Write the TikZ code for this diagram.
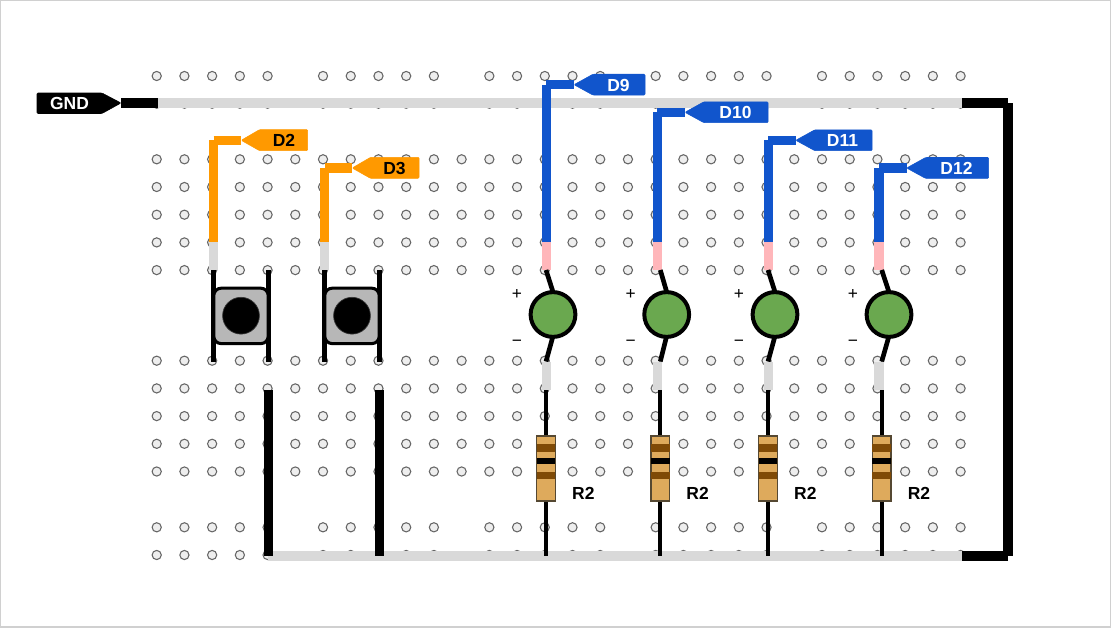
\documentclass[tikz,border=0pt]{standalone}
\usepackage{fontspec}
\setmainfont{Liberation Sans}
\usetikzlibrary{positioning}

\definecolor{railgray}{RGB}{217,217,217}
\definecolor{holegray}{RGB}{238,238,238}
\definecolor{holeedge}{RGB}{102,102,102}
\definecolor{btnorange}{RGB}{255,153,0}
\definecolor{ledblue}{RGB}{17,85,204}
\definecolor{ledpink}{RGB}{255,182,186}
\definecolor{ledgreen}{RGB}{106,168,79}
\definecolor{btngray}{RGB}{183,183,183}
\definecolor{restan}{RGB}{222,170,92}
\definecolor{resedge}{RGB}{85,72,50}
\definecolor{resbrown}{RGB}{127,74,6}

\tikzset{
  hole/.style={draw=holeedge,fill=holegray,line width=0.8pt},
  thickwire/.style={line width=7pt},
  thinleg/.style={draw=black,line width=3.1pt},
  ledleg/.style={draw=black,line width=3.5pt},
  pinlabel/.style={inner sep=0pt,font=\fontsize{13.1}{14}\selectfont\bfseries},
  pinshape/.style={line width=0.4pt,rounded corners=0.8pt},
  polarity/.style={inner sep=0pt,font=\fontsize{13}{14}\selectfont},
  resname/.style={inner sep=0pt,font=\fontsize{13.1}{14}\selectfont\bfseries}
}

\begin{document}
\begin{tikzpicture}[x=0.75pt,y=0.75pt,yscale=-1,xscale=1]
\useasboundingbox (0,0) rectangle (1112,628);

%Shape: Rectangle [frame]
\draw [draw={rgb, 255:red, 208; green, 208; blue, 208 },fill=white,line width=1pt] (0.7,0.7) -- (1110.3,0.7) -- (1110.3,627) -- (0.7,627) -- cycle ;

%Shape: Holes of the rail rows
\foreach \rowy in {76,103.7,527.3,555}{
  \foreach \k in {0,1,2,3,4,6,7,8,9,10,12,13,14,15,16,18,19,20,21,22,24,25,26,27,28,29}{
    \draw [hole] (156.7+27.72*\k,\rowy) circle (4.6) ;
  }
}
%Shape: Holes of the main rows
\foreach \rowy in {159.3,187,214.7,242.4,270.1,360.7,388.4,416.1,443.8,471.5}{
  \foreach \k in {0,...,29}{
    \draw [hole] (156.7+27.72*\k,\rowy) circle (4.6) ;
  }
}

%Shape: Top and bottom rail
\coordinate (railTL) at (158,103);
\coordinate (railTR) at (962,103);
\coordinate (railBL) at (268,556);
\coordinate (railBR) at (962,556);
\coordinate (cornerT) at (1008,103);
\coordinate (cornerB) at (1008,556);
\draw [railgray,thickwire] (railTL) -- (railTR) ;
\draw [railgray,thickwire] (railBL) -- (railBR) ;
\draw [black,thickwire] (railTR) -- (cornerT) ;
\draw [black,thickwire] (cornerT) -- (cornerB) ;
\draw [black,thickwire] (cornerB) -- (railBR) ;

%Shape: GND pin
\draw [pinshape,fill=black,draw=black] (37,93) -- (102,93) -- (121,103) -- (102,113.5) -- (37,113.5) -- cycle ;
\node [pinlabel,text=white] (gndlabel) at (69.5,103.5) {GND};
\coordinate (gndtip) at (121,103);
\draw [black,thickwire] (gndtip) -- (railTL) ;

%Shape: Push buttons
\foreach \btn/\bx in {a/241,b/352}{
  \coordinate (\btn legNW) at (\bx-27.5,270);
  \coordinate (\btn legSW) at (\bx-27.5,361.5);
  \coordinate (\btn legNE) at (\bx+27.5,270);
  \coordinate (\btn legSE) at (\bx+27.5,361.5);
  \draw [thinleg] (\btn legNW) -- (\btn legSW) ;
  \draw [thinleg] (\btn legNE) -- (\btn legSE) ;
  \draw [fill=btngray,line width=2.3pt,rounded corners=5.5pt] (\bx-27.2,288.2) -- (\bx+27.2,288.2) -- (\bx+27.2,343.6) -- (\bx-27.2,343.6) -- cycle ;
  \draw [draw=black!70!btngray,fill=black,line width=0.5pt] (\bx,315.7) circle (18.4) ;
}

%Shape: Wires from the buttons to the lower rail
\coordinate (gndwireA) at (268.5,389.5);
\coordinate (gndwireB) at (379.8,389.5);
\coordinate (gndfootA) at (268.5,556);
\coordinate (gndfootB) at (379.8,556);
\draw [black,thickwire] (gndwireA) -- (gndfootA) ;
\draw [black,thickwire] (gndwireB) -- (gndfootB) ;

%Shape: Orange wires and their pins
\foreach \wname/\wx/\wy/\wtxt/\wend/\wtext in {dtwo/213.6/140.3/D2/307.7/284,dthree/324.6/168/D3/419/394.5}{
  \coordinate (\wname top) at (\wx,\wy);
  \coordinate (\wname tip) at (\wx+27.6,\wy);
  \coordinate (\wname low) at (\wx,242);
  \coordinate (\wname foot) at (\wx,270);
  \draw [btnorange,thickwire] (\wname top) -- (\wname tip) ;
  \draw [btnorange,thickwire] (\wname top) -- (\wname low) ;
  \draw [railgray,thickwire] (\wname low) -- (\wname foot) ;
  \draw [pinshape,fill=btnorange,draw=btnorange] (\wname tip) -- (\wx+46,\wy-10.7) -- (\wend,\wy-10.7) -- (\wend,\wy+10.4) -- (\wx+46,\wy+10.4) -- cycle ;
  \node [pinlabel] (\wname label) at (\wtext,\wy+0.4) {\wtxt};
}

%Shape: Blue wires and their pins
\foreach \wname/\wx/\wy/\wtxt/\wend/\wtext in {dnine/546.4/84.7/D9/645/618.5,dten/657.3/112.3/D10/768/735.5,deleven/768.2/140.3/D11/872/842.5,dtwelve/879/168/D12/988.7/956.5}{
  \coordinate (\wname top) at (\wx,\wy);
  \coordinate (\wname tip) at (\wx+27.6,\wy);
  \coordinate (\wname low) at (\wx,242);
  \coordinate (\wname foot) at (\wx,270);
  \draw [ledblue,thickwire] (\wname top) -- (\wname tip) ;
  \draw [ledblue,thickwire] (\wname top) -- (\wname low) ;
  \draw [ledpink,thickwire] (\wname low) -- (\wname foot) ;
  \draw [pinshape,fill=ledblue,draw=ledblue] (\wname tip) -- (\wx+46.6,\wy-10.5) -- (\wend,\wy-10.5) -- (\wend,\wy+10.4) -- (\wx+46.6,\wy+10.4) -- cycle ;
  \node [pinlabel,text=white] (\wname label) at (\wtext,\wy+0.4) {\wtxt};
}

%Shape: LEDs, resistors and the wires between them
\foreach \lname/\wx/\lx/\rx in {ledA/546.4/553/546,ledB/657.3/666.7/660.3,ledC/768.2/775/768,ledD/879/889/881.7}{
  \coordinate (\lname up) at (\rx,270);
  \coordinate (\lname down) at (\rx,361.5);
  \coordinate (\lname low) at (\wx,361.5);
  \coordinate (\lname mid) at (\wx,390);
  \coordinate (\lname res) at (\rx,390);
  \coordinate (\lname foot) at (\rx,556);
  \draw [ledleg] (\lname up) -- (\lx,292) ;
  \draw [ledleg] (\lx,336) -- (\lname down) ;
  \draw [draw=black,fill=ledgreen,line width=3pt] (\lx,314.5) circle (22.4) ;
  \draw [railgray,thickwire] (\lname low) -- (\lname mid) ;
  \draw [thinleg] (\lname res) -- (\lname foot) ;
  \draw [draw=resedge,fill=restan,line width=1.1pt] (\rx-9.3,436) -- (\rx+9.3,436) -- (\rx+9.3,501) -- (\rx-9.3,501) -- cycle ;
  \fill [resbrown] (\rx-9.3,444.3) rectangle (\rx+9.3,451.7) ;
  \fill [black] (\rx-9.3,457.7) rectangle (\rx+9.3,464.3) ;
  \fill [resbrown] (\rx-9.3,472.3) rectangle (\rx+9.3,479.3) ;
  \node [polarity] (\lname plus) at (\lx-36,294.3) {+};
  \node [polarity] (\lname minus) at (\lx-36,343) {−};
  \node [resname] (\lname name) at (\rx+37.3,493.5) {R2};
}

\end{tikzpicture}
\end{document}
